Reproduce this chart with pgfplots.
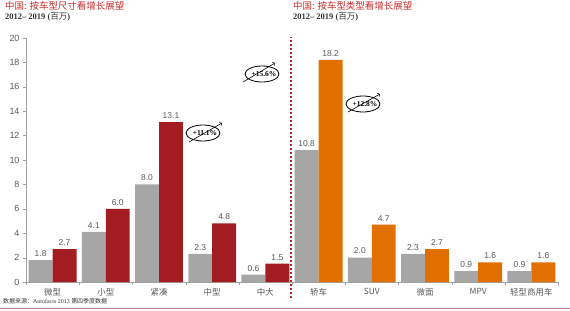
\documentclass[border=0pt]{standalone}
\usepackage{pgfplots}
\pgfplotsset{compat=1.18}
\usepackage{fontspec}
\setmainfont{Liberation Sans}
\newfontfamily\cjk{Noto Sans CJK SC}
\newfontfamily\serif{Liberation Serif}
\definecolor{cgrey}{RGB}{166,166,166}
\definecolor{cred}{RGB}{163,28,34}
\definecolor{cdash}{RGB}{200,35,45}
\definecolor{corange}{RGB}{226,112,0}
\definecolor{ctitle}{RGB}{200,45,45}
\definecolor{ctext}{RGB}{89,89,89}
\definecolor{caxis}{RGB}{160,160,160}
\definecolor{cline}{RGB}{200,140,130}
\begin{document}
\begin{tikzpicture}
\path[use as bounding box] (0,0) rectangle (570bp,311bp);
\begin{axis}[
  at={(26bp,29bp)}, anchor=south west,
  scale only axis, width=532bp, height=244bp,
  xmin=-0.5, xmax=9.5, ymin=0, ymax=20,
  axis x line*=bottom, axis y line*=left,
  axis line style={caxis,-},
  xtick={0,...,9},
  xticklabels={微型,小型,紧凑,中型,中大,轿车,SUV,微面,MPV,轻型商用车},
  major x tick style={draw=none},
  minor xtick={-0.5,0.5,...,9.5},
  ytick={0,2,...,20},
  tick align=outside, major tick length=3bp, minor tick length=3bp,
  tick style={caxis},
  xticklabel style={font=\cjk\fontsize{8.5}{10}\selectfont, color=ctext},
  yticklabel style={font=\fontsize{9}{10}\selectfont, color=ctext},
  /pgf/number format/assume math mode=true,
  ybar, bar width=0.45,
  nodes near coords={\pgfmathprintnumber[fixed,fixed zerofill,precision=1]{\pgfplotspointmeta}},
  every node near coord/.append style={font=\fontsize{8.5}{10}\selectfont, color=ctext},
  clip=false,
]
\addplot[fill=cgrey, draw=none, bar shift=-0.225] coordinates {(0,1.8) (1,4.1) (2,8.0) (3,2.3) (4,0.6) (5,10.8) (6,2.0) (7,2.3) (8,0.9) (9,0.9)};
\addplot[fill=cred, draw=none, bar shift=0.225] coordinates {(0,2.7) (1,6.0) (2,13.1) (3,4.8) (4,1.5)};
\addplot[fill=corange, draw=none, bar shift=0.225] coordinates {(5,18.2) (6,4.7) (7,2.7) (8,1.6) (9,1.6)};
\end{axis}
% separator
\draw[cdash, line width=2.5bp, dash pattern=on 2bp off 2bp] (291bp,13bp) -- (291bp,274bp);
% titles
\node[anchor=west, font=\cjk\fontsize{9.5}{10}\selectfont, color=ctitle, inner sep=0] at (5bp,305bp) {中国: 按车型尺寸看增长展望};
\node[anchor=west, font=\serif\bfseries\fontsize{8.5}{9}\selectfont, inner sep=0, color=black!80] at (5bp,294bp) {2012– 2019 ({\cjk\mdseries 百万})};
\node[anchor=west, font=\cjk\fontsize{9.5}{10}\selectfont, color=ctitle, inner sep=0] at (293bp,305bp) {中国: 按车型类型看增长展望};
\node[anchor=west, font=\serif\bfseries\fontsize{8.5}{9}\selectfont, inner sep=0, color=black!80] at (293bp,294bp) {2012– 2019 ({\cjk\mdseries 百万})};
% growth annotations
\draw[black, line width=0.8bp] (203bp,178bp) ellipse (17bp and 8bp);
\node[font=\serif\bfseries\fontsize{7.5}{8}\selectfont, inner sep=0] at (205bp,178bp) {+11.1\%};
\draw[->, line width=0.6bp] (189bp,169bp) -- (222bp,188bp);
\draw[black, line width=0.8bp] (262bp,237bp) ellipse (17bp and 8bp);
\node[font=\serif\bfseries\fontsize{7.5}{8}\selectfont, inner sep=0] at (264bp,237bp) {+15.6\%};
\draw[->, line width=0.6bp] (243bp,229bp) -- (275bp,248bp);
\draw[black, line width=0.8bp] (363bp,207bp) ellipse (17bp and 8bp);
\node[font=\serif\bfseries\fontsize{7.5}{8}\selectfont, inner sep=0] at (365bp,207bp) {+12.8\%};
\draw[->, line width=0.6bp] (348bp,199bp) -- (380bp,217bp);
% source and bottom rule
\node[anchor=west, font=\fontsize{6}{7}\selectfont, color=black!80, inner sep=0] at (3bp,10bp) {{\cjk 数据来源：}{\serif Autofacts 2013 }{\cjk 第四季度数据}};
\draw[cline, line width=1bp] (0,2bp) -- (570bp,2bp);
\end{tikzpicture}
\end{document}
